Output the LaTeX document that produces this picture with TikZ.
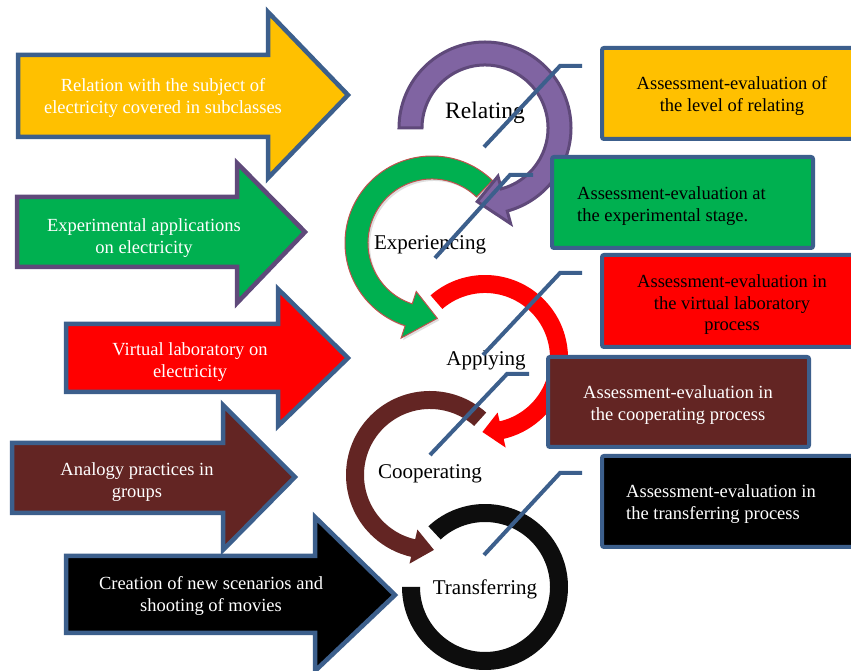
\documentclass[tikz,border=0pt]{standalone}
\usepackage{fontspec}
\setmainfont{Liberation Serif}
\usetikzlibrary{calc,shadows}
\definecolor{bord}{HTML}{3C5F8C}
\definecolor{yel}{HTML}{FFC000}
\definecolor{grn}{HTML}{00B050}
\definecolor{purf}{HTML}{8064A2}
\definecolor{purd}{HTML}{5F497A}
\definecolor{brn}{HTML}{632523}
\definecolor{blk}{HTML}{0D0D0D}
\definecolor{rdb}{HTML}{C0504D}
\tikzset{
  larrow/.style={line width=4.5pt, line join=miter, draw=bord},
  rbox/.style={line width=4pt, draw=bord, rounded corners=2pt},
  txt/.style={font=\fontsize{18.5}{21.5}\selectfont, align=center, inner sep=0pt},
  lbl/.style={font=\fontsize{21}{24}\selectfont, inner sep=0pt},
  callout/.style={draw=bord, line width=4pt}
}
\begin{document}
\begin{tikzpicture}[x=1pt,y=1pt]
\clip (0,0) rectangle (851,671);
\fill[white] (0,0) rectangle (851,671);

% left block arrows
\draw[larrow, fill=yel] (18,616) -- (268,616) -- (268,659) -- (348,576) -- (268,493) -- (268,534) -- (18,534) -- cycle;
\draw[larrow, fill=grn, draw=purd] (17,474) -- (237,474) -- (237,508) -- (305,439) -- (237,368) -- (237,404) -- (17,404) -- cycle;
\draw[larrow, fill=red] (66,347) -- (278,347) -- (278,382) -- (348,313) -- (278,245) -- (278,279) -- (66,279) -- cycle;
\draw[larrow, fill=brn] (12,228) -- (223,228) -- (223,266) -- (295,194) -- (223,121) -- (223,158) -- (12,158) -- cycle;
\draw[larrow, fill=black] (66,115) -- (315,115) -- (315,154) -- (395,76) -- (315,0) -- (315,38) -- (66,38) -- cycle;

\node[txt, text=white] (t1) at (163,573) {Relation with the subject of\\electricity covered in subclasses};
\node[txt, text=white] (t2) at (144,433) {Experimental applications\\on electricity};
\node[txt, text=white] (t3) at (190,309) {Virtual laboratory on\\electricity};
\node[txt, text=white] (t4) at (137,189) {Analogy practices in\\groups};
\node[txt, text=white] (t5) at (211,75) {Creation of new scenarios and\\shooting of movies};

% ring centres
\coordinate (cP) at (485,543);
\coordinate (cG) at (432,428);
\coordinate (cR) at (485,313);
\coordinate (cB) at (430,196);
\coordinate (cK) at (485,84);

% green ring (with shadow)
\filldraw[fill=grn, draw=rdb, line width=1pt, drop shadow={shadow xshift=2pt, shadow yshift=-2pt, opacity=0.25}]
  ($(cG)+(46:87pt)$) arc[start angle=46, end angle=252, radius=87pt]
  -- ($(cG)+(252:100pt)$) -- ($(cG)+(274:75.5pt)$) -- ($(cG)+(252:51pt)$)
  -- ($(cG)+(252:64pt)$) arc[start angle=252, end angle=46, radius=64pt] -- cycle;

% purple ring
\filldraw[fill=purf, draw=purd, line width=3pt, line join=miter]
  ($(cP)+(180:86pt)$) arc[start angle=180, end angle=-75, radius=86pt]
  -- ($(cP)+(-75:99pt)$) -- ($(cP)+(-96:74pt)$) -- ($(cP)+(-75:50pt)$)
  -- ($(cP)+(-75:63pt)$) arc[start angle=-75, end angle=180, radius=63pt] -- cycle;

% red ring
\fill[red]
  ($(cR)+(131:83pt)$) arc[start angle=131, end angle=-77, radius=83pt]
  -- ($(cR)+(-77:92pt)$) -- ($(cR)+(-92:74pt)$) -- ($(cR)+(-77:56pt)$)
  -- ($(cR)+(-77:65pt)$) arc[start angle=-77, end angle=131, radius=65pt] -- cycle;

% brown ring
\fill[brn]
  ($(cB)+(48:84pt)$) arc[start angle=48, end angle=257, radius=84pt]
  -- ($(cB)+(257:91pt)$) -- ($(cB)+(273:75pt)$) -- ($(cB)+(257:56pt)$)
  -- ($(cB)+(257:66pt)$) arc[start angle=257, end angle=48, radius=66pt] -- cycle;

% black ring
\fill[blk]
  ($(cK)+(133:83pt)$) arc[start angle=133, end angle=-180, radius=83pt]
  -- ($(cK)+(180:65pt)$) arc[start angle=-180, end angle=133, radius=65pt] -- cycle;

% ring labels
\node[lbl, font=\fontsize{23.5}{26}\selectfont] (lP) at (485,558) {Relating};
\node[lbl] (lG) at (430,426) {Experiencing};
\node[lbl] (lR) at (486,311) {Applying};
\node[lbl] (lB) at (430,197) {Cooperating};
\node[lbl] (lK) at (485,82) {Transferring};

% right boxes
\draw[rbox, fill=yel] (602,623) rectangle (870,532);
\draw[rbox, fill=grn] (552,514) rectangle (813,423);
\draw[rbox, fill=red] (602,416) rectangle (870,324);
\draw[rbox, fill=brn] (548,314) rectangle (809,224);
\draw[rbox, fill=black] (602,215) rectangle (870,124);

\node[txt] (b1) at (732,575) {Assessment-evaluation of\\the level of relating};
\node[txt, align=left, anchor=west] (b2) at (577,465) {Assessment-evaluation at\\the experimental stage.};
\node[txt] (b3) at (732,366) {Assessment-evaluation in\\the virtual laboratory\\process};
\node[txt, text=white] (b4) at (678,266) {Assessment-evaluation in\\the cooperating process};
\node[txt, text=white, align=left, anchor=west] (b5) at (626,167) {Assessment-evaluation in\\the transferring process};

% callout lines
\coordinate (a1) at (582,605); \coordinate (k1) at (560,605); \coordinate (e1) at (484,524);
\coordinate (a2) at (533,496); \coordinate (k2) at (510,496); \coordinate (e2) at (435,413);
\coordinate (a3) at (582,398); \coordinate (k3) at (560,398); \coordinate (e3) at (483,316);
\coordinate (a4) at (529,297); \coordinate (k4) at (507,297); \coordinate (e4) at (430,216);
\coordinate (a5) at (582,198); \coordinate (k5) at (560,198); \coordinate (e5) at (484,116);
\draw[callout] (a1) -- (k1) -- (e1);
\draw[callout] (a2) -- (k2) -- (e2);
\draw[callout] (a3) -- (k3) -- (e3);
\draw[callout] (a4) -- (k4) -- (e4);
\draw[callout] (a5) -- (k5) -- (e5);
\end{tikzpicture}
\end{document}
